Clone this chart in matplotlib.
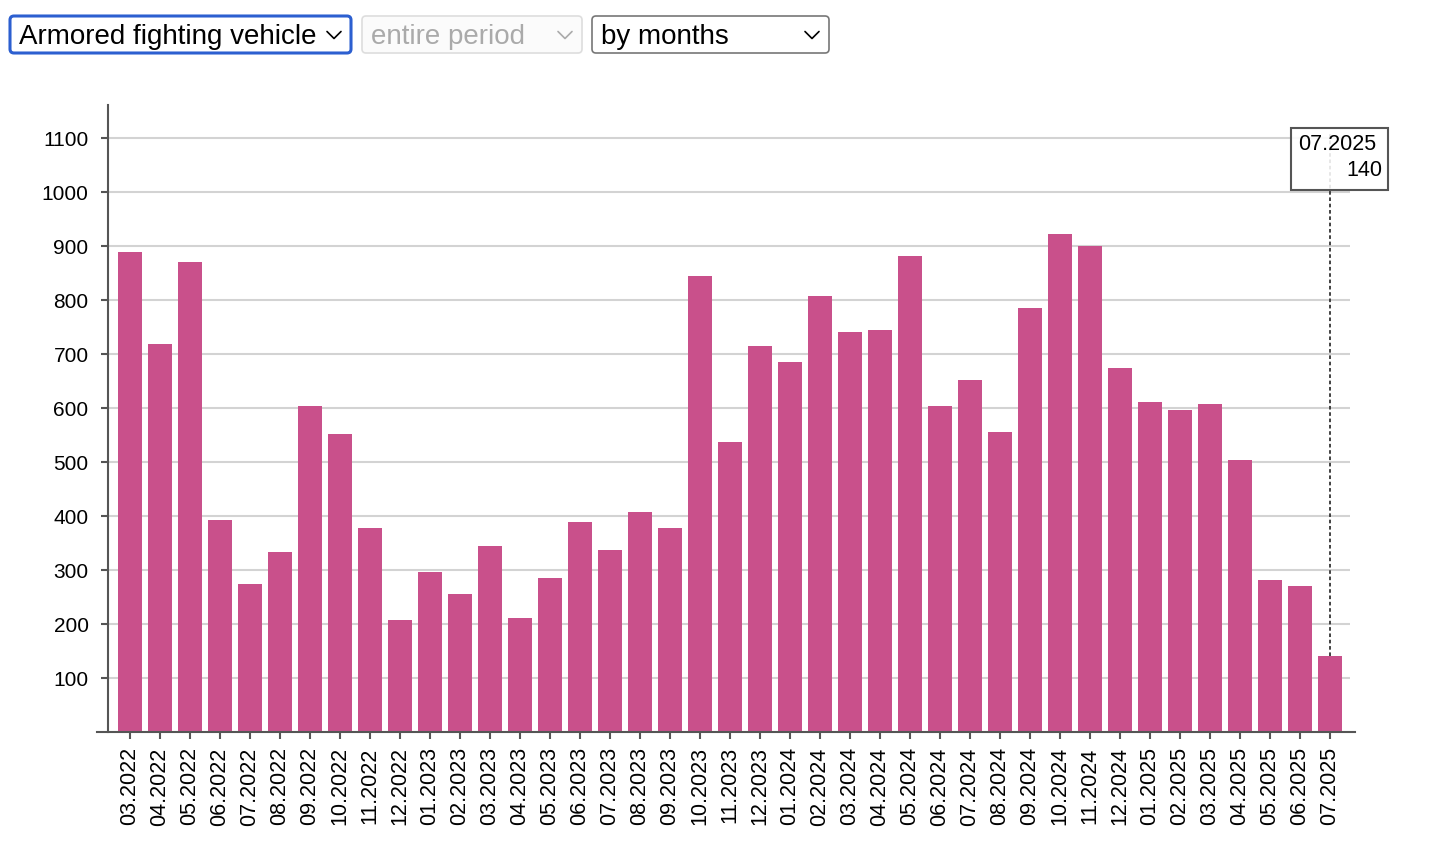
import matplotlib
matplotlib.use("Agg")
import matplotlib.pyplot as plt
from matplotlib.patches import FancyBboxPatch, Rectangle

plt.rcParams['font.family'] = ['Liberation Sans', 'DejaVu Sans']

months = ["03.2022", "04.2022", "05.2022", "06.2022", "07.2022", "08.2022", "09.2022",
          "10.2022", "11.2022", "12.2022",
          "01.2023", "02.2023", "03.2023", "04.2023", "05.2023", "06.2023", "07.2023",
          "08.2023", "09.2023", "10.2023", "11.2023", "12.2023",
          "01.2024", "02.2024", "03.2024", "04.2024", "05.2024", "06.2024", "07.2024",
          "08.2024", "09.2024", "10.2024", "11.2024", "12.2024",
          "01.2025", "02.2025", "03.2025", "04.2025", "05.2025", "06.2025", "07.2025"]
values = [889, 718, 870, 393, 274, 333, 604, 552, 378, 207,
          296, 256, 344, 211, 285, 389, 337, 407, 378, 844, 537, 715,
          685, 807, 741, 744, 881, 604, 652, 556, 785, 922, 900, 674,
          611, 596, 607, 504, 281, 270, 140]
yticks = [100, 200, 300, 400, 500, 600, 700, 800, 900, 1000, 1100]
tooltip_index = 40

W, H = 1438, 842
fig = plt.figure(figsize=(W / 100, H / 100), dpi=100)

ax_l, ax_r, ax_t, ax_b = 97, 1355, 105, 732
ax = fig.add_axes([ax_l / W, (H - ax_b) / H, (ax_r - ax_l) / W, (ax_b - ax_t) / H])

BAR = "#c9508b"
x = list(range(len(months)))
ax.bar(x, values, width=0.8, color=BAR, zorder=2)

step = 30.0
first_c = 130.0
xmin = (ax_l - first_c) / step
xmax = (ax_r - first_c) / step
ax.set_xlim(xmin, xmax)
ax.set_ylim(0, (ax_b - ax_t) / 0.54)

yaxis_x = (108 - first_c) / step
grid_r = (1350 - first_c) / step
ax.hlines(yticks, yaxis_x, grid_r, colors="#d3d3d3", linewidth=1.5, zorder=1)

for s in ["top", "right"]:
    ax.spines[s].set_visible(False)
ax.spines["left"].set_position(("data", yaxis_x))
ax.spines["left"].set_color("#555555")
ax.spines["left"].set_linewidth(1.5)
ax.spines["bottom"].set_color("#555555")
ax.spines["bottom"].set_linewidth(1.5)

ax.set_yticks(yticks)
ax.set_yticklabels([str(v) for v in yticks], fontsize=15)
ax.set_xticks(x)
ax.set_xticklabels(months, rotation=90, fontsize=15.5)
ax.tick_params(axis="both", colors="#555555", length=5, width=1.5, labelcolor="black")
ax.tick_params(axis="y", pad=9)
ax.tick_params(axis="x", pad=6)

ax.plot([tooltip_index, tooltip_index], [values[tooltip_index], 1110], color="#333333",
        linewidth=1.3, linestyle=(0, (2, 1.5)), clip_on=False, zorder=3)

ov = fig.add_axes([0, 0, 1, 1], facecolor="none", zorder=5)
ov.set_xlim(0, W)
ov.set_ylim(H, 0)
ov.axis("off")

ov.add_patch(Rectangle((1291, 128), 97, 62, facecolor="white", alpha=0.88,
                       edgecolor="none"))
ov.add_patch(Rectangle((1291, 128), 97, 62, facecolor="none", edgecolor="#555555",
                       linewidth=1.5))
ov.text(1298, 144, months[tooltip_index], fontsize=15.5, ha="left", va="center")
ov.text(1382, 170, str(values[tooltip_index]), fontsize=15.5, ha="right", va="center")

def dropdown(x0, x1, text, edge, lw, tcolor, face="white"):
    ov.add_patch(FancyBboxPatch((x0, 16), x1 - x0, 37,
                                boxstyle="round,pad=0,rounding_size=4",
                                facecolor=face, edgecolor=edge, linewidth=lw))
    ov.text(x0 + 9, 37, text, fontsize=20, color=tcolor, ha="left", va="center")
    cx = x1 - 17
    ov.plot([cx - 7, cx, cx + 7], [31.5, 38.5, 31.5], color=tcolor, linewidth=1.2,
            solid_capstyle="round")

dropdown(10, 351, "Armored fighting vehicle", "#2c5fd0", 2.2, "black")
dropdown(362, 582, "entire period", "#dddddd", 1.2, "#aaaaaa", face="#fbfbfb")
dropdown(592, 829, "by months", "#777777", 1.2, "black")

fig.savefig("out.png", dpi=100)
